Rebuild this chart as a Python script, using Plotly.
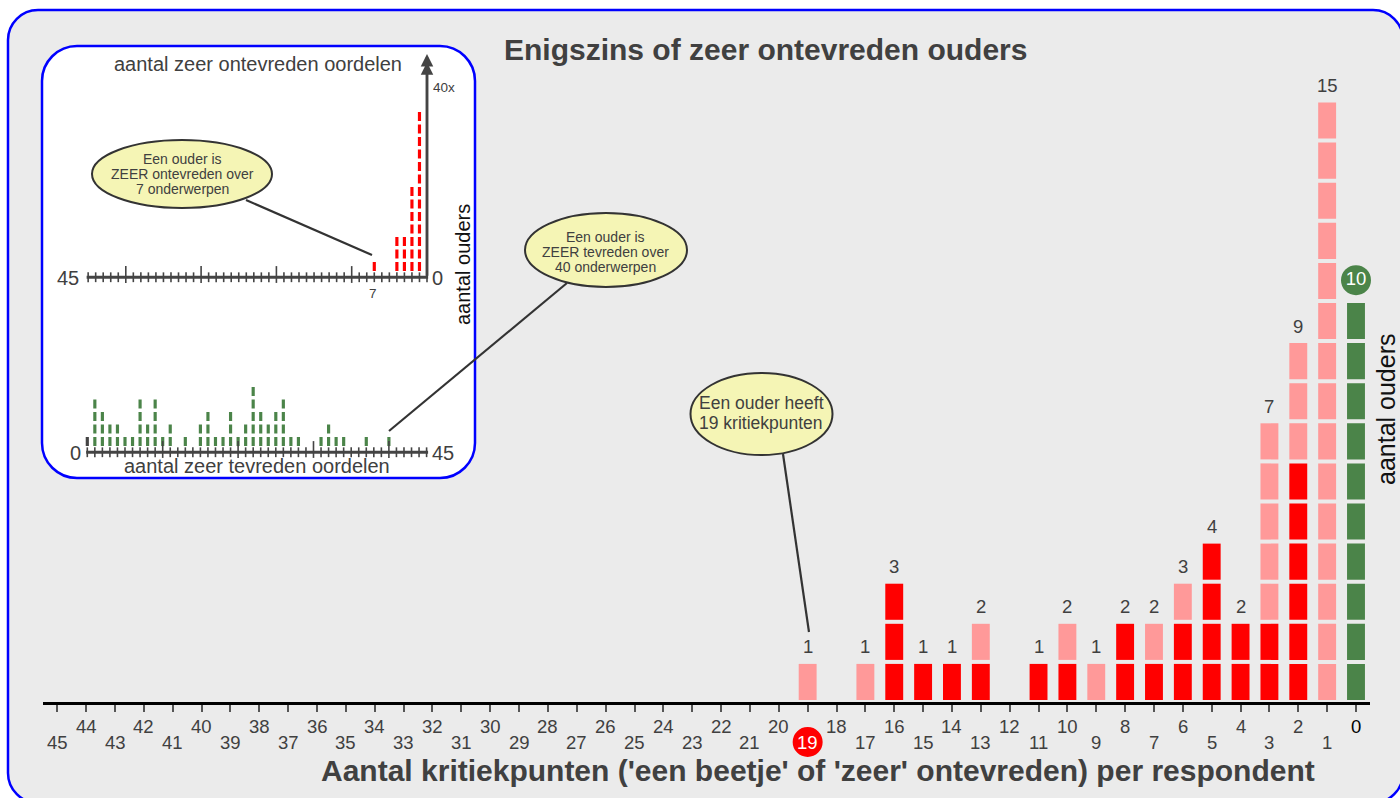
import plotly.graph_objects as go

W, H = 1400, 798

# ---------------- data ----------------
# main chart: number of critical points per respondent (x) and number of parents
crit_points   = [19, 17, 16, 15, 14, 13, 11, 10, 9, 8, 7, 6, 5, 4, 3, 2, 1, 0]
zeer_counts   = [0, 0, 3, 1, 1, 1, 1, 1, 0, 2, 1, 2, 4, 2, 2, 6, 0, 0]      # red (at least one 'zeer')
beetje_counts = [1, 1, 0, 0, 0, 1, 0, 1, 1, 0, 1, 1, 0, 0, 5, 3, 15, 0]     # pink
tevreden_counts = [0, 0, 0, 0, 0, 0, 0, 0, 0, 0, 0, 0, 0, 0, 0, 0, 0, 10]  # green (no critical points)
main_tick_values = list(range(0, 46))
highlight_tick = 19

# inset top: number of 'zeer ontevreden' answers per parent
ontevreden_k = [1, 2, 3, 4, 7]
ontevreden_n = [13, 7, 3, 3, 1]
ontevreden_zero_label = "40x"

# inset bottom: number of 'zeer tevreden' answers per parent
tevreden_k = [0, 1, 2, 3, 4, 5, 6, 7, 8, 9, 10, 11, 13, 15, 16, 17, 18, 19, 20, 21,
              22, 23, 24, 25, 26, 27, 28, 31, 32, 33, 34, 37, 40]
tevreden_n = [1, 4, 3, 2, 2, 1, 1, 4, 2, 4, 1, 2, 1, 2, 3, 1, 1, 3, 1, 2,
              5, 3, 2, 3, 4, 1, 1, 1, 2, 1, 1, 1, 1]
inset_tick_values = list(range(0, 46))

# ---------------- style ----------------
RED, PINK, GREEN, DARK = "#ff0000", "#ff9999", "#4b8449", "#444444"
BG, BLUE, TXT = "#ebebeb", "#0000ff", "#404040"
ELL_FILL, ELL_LINE = "#f5f5b5", "#333333"
FONT = "Arial, Liberation Sans, sans-serif"


def X(px):
    return px / W


def Y(py):
    return 1 - py / H


def rrect(x0, y0, x1, y1, r):
    k = 0.552 * r
    return (f"M {X(x0+r)},{Y(y0)} L {X(x1-r)},{Y(y0)} "
            f"C {X(x1-r+k)},{Y(y0)} {X(x1)},{Y(y0+r-k)} {X(x1)},{Y(y0+r)} "
            f"L {X(x1)},{Y(y1-r)} "
            f"C {X(x1)},{Y(y1-r+k)} {X(x1-r+k)},{Y(y1)} {X(x1-r)},{Y(y1)} "
            f"L {X(x0+r)},{Y(y1)} "
            f"C {X(x0+r-k)},{Y(y1)} {X(x0)},{Y(y1-r+k)} {X(x0)},{Y(y1-r)} "
            f"L {X(x0)},{Y(y0+r)} "
            f"C {X(x0)},{Y(y0+r-k)} {X(x0+r-k)},{Y(y0)} {X(x0+r)},{Y(y0)} Z")


def segments(xs, counts, starts):
    sx, sb = [], []
    for x, c, s in zip(xs, counts, starts):
        for k in range(c):
            sx.append(x)
            sb.append(s + k)
    return sx, sb


fig = go.Figure()

# ---------------- main chart bars ----------------
SEG_H = 0.9
zeros = [0] * len(crit_points)
rx, rb = segments(crit_points, zeer_counts, zeros)
px_, pb = segments(crit_points, beetje_counts, zeer_counts)
gx, gb = segments(crit_points, tevreden_counts, zeros)
for sx, sb, col in [(rx, rb, RED), (px_, pb, PINK), (gx, gb, GREEN)]:
    fig.add_trace(go.Bar(x=sx, base=sb, y=[SEG_H] * len(sx), width=0.62,
                         marker=dict(color=col, line=dict(width=0)),
                         xaxis="x", yaxis="y", hoverinfo="skip"))

totals = [a + b + c for a, b, c in zip(zeer_counts, beetje_counts, tevreden_counts)]

annotations = []
for cp, t, g in zip(crit_points, totals, tevreden_counts):
    if t == 0 or g > 0:
        continue
    annotations.append(dict(x=cp, y=t, xref="x", yref="y", yshift=13, text=str(t),
                            xanchor="center", yanchor="middle",
                            showarrow=False, font=dict(family=FONT, size=18.5, color=TXT)))

# green circle with count for 0
for cp, g in zip(crit_points, tevreden_counts):
    if g > 0:
        fig.add_trace(go.Scatter(x=[cp], y=[g + 0.47], mode="markers+text", text=[str(g)],
                                 textposition="middle center",
                                 textfont=dict(family=FONT, size=18.5, color="white"),
                                 marker=dict(size=30, color=GREEN), cliponaxis=False,
                                 xaxis="x", yaxis="y", hoverinfo="skip"))

# staggered tick labels
for t in main_tick_values:
    py = 726.5 if t % 2 == 0 else 742.5
    col = "white" if t == highlight_tick else ("#000000" if t == 0 else TXT)
    annotations.append(dict(x=t, y=Y(py), xref="x", yref="paper", text=str(t),
                            xanchor="center", yanchor="middle",
                            showarrow=False, font=dict(family=FONT, size=18.5, color=col)))

# ---------------- inset top (zeer ontevreden) ----------------
DASH_H = 0.72
tx, tb = segments(ontevreden_k, ontevreden_n, [0.5] * len(ontevreden_k))
fig.add_trace(go.Bar(x=tx, base=tb, y=[DASH_H] * len(tx), width=0.42,
                     marker=dict(color=RED, line=dict(width=0)),
                     xaxis="x2", yaxis="y2", hoverinfo="skip"))
fig.add_trace(go.Scatter(x=[45.2, -0.15], y=[0, 0], mode="lines",
                         line=dict(color=DARK, width=3), xaxis="x2", yaxis="y2", hoverinfo="skip"))
small = [v for v in inset_tick_values if v % 10 != 0 or v == 0]
big = [v for v in inset_tick_values if v % 10 == 0 and v != 0]
fig.add_trace(go.Scatter(x=small, y=[0] * len(small), mode="markers", cliponaxis=False,
                         marker=dict(symbol="line-ns", size=7, line=dict(color=DARK, width=1.6)),
                         xaxis="x2", yaxis="y2", hoverinfo="skip"))
fig.add_trace(go.Scatter(x=big, y=[0.22] * len(big), mode="markers", cliponaxis=False,
                         marker=dict(symbol="line-ns", size=12, line=dict(color=DARK, width=1.6)),
                         xaxis="x2", yaxis="y2", hoverinfo="skip"))

# ---------------- inset bottom (zeer tevreden) ----------------
bx, bb = segments(tevreden_k, tevreden_n, [0.5] * len(tevreden_k))
bcol = [DARK if x == 0 else GREEN for x in bx]
fig.add_trace(go.Bar(x=bx, base=bb, y=[DASH_H] * len(bx), width=0.42,
                     marker=dict(color=bcol, line=dict(width=0)),
                     xaxis="x3", yaxis="y3", hoverinfo="skip"))
fig.add_trace(go.Scatter(x=[-0.15, 45.2], y=[0, 0], mode="lines",
                         line=dict(color=DARK, width=3), xaxis="x3", yaxis="y3", hoverinfo="skip"))
fig.add_trace(go.Scatter(x=small, y=[0] * len(small), mode="markers", cliponaxis=False,
                         marker=dict(symbol="line-ns", size=7, line=dict(color=DARK, width=1.6)),
                         xaxis="x3", yaxis="y3", hoverinfo="skip"))
fig.add_trace(go.Scatter(x=big, y=[0.22] * len(big), mode="markers", cliponaxis=False,
                         marker=dict(symbol="line-ns", size=12, line=dict(color=DARK, width=1.6)),
                         xaxis="x3", yaxis="y3", hoverinfo="skip"))

# arrow for the '0' bar of the top inset (40 parents)
for top in [17.85, 17.2]:
    annotations.append(dict(x=0, y=top, ax=0, ay=0, xref="x2", yref="y2", axref="x2", ayref="y2",
                            showarrow=True, arrowhead=2, arrowsize=1, arrowwidth=2.5,
                            arrowcolor=DARK, text=""))


def txt(text, px, py, size, color=TXT, bold=False, angle=0):
    t = f"<b>{text}</b>" if bold else text
    annotations.append(dict(x=X(px), y=Y(py), xref="paper", yref="paper", text=t,
                            xanchor="center", yanchor="middle",
                            showarrow=False, textangle=angle,
                            font=dict(family=FONT, size=size, color=color)))


txt("Enigszins of zeer ontevreden ouders", 765.5, 50, 30, bold=True)
txt("Aantal kritiekpunten ('een beetje' of 'zeer' ontevreden) per respondent", 818, 770, 30, bold=True)
txt("aantal ouders", 1386, 409, 25, color="#111111", angle=-90)

txt("aantal zeer ontevreden oordelen", 258, 64, 20)
txt(ontevreden_zero_label, 444, 87, 13.5)
txt("45", 68, 278, 20)
txt("0", 437, 278, 20)
txt("7", 373, 293, 13.5)
txt("aantal ouders", 463, 265, 20, color="#111111", angle=-90)
txt("0", 75, 453, 20)
txt("45", 443, 453, 20)
txt("aantal zeer tevreden oordelen", 257, 466, 20)

# callout texts
for i, line in enumerate(["Een ouder is", "ZEER ontevreden over", "7 onderwerpen"]):
    txt(line, 182, 159 + 15 * i, 14)
for i, line in enumerate(["Een ouder is", "ZEER tevreden over", "40 onderwerpen"]):
    txt(line, 605, 237 + 15 * i, 14)
for i, line in enumerate(["Een ouder heeft", "19 kritiekpunten"]):
    txt(line, 761, 403 + 20 * i, 17.5)

# ---------------- shapes ----------------
shapes = []
shapes.append(dict(type="path", path=rrect(8, 10, 1403, 803, 30), xref="paper", yref="paper",
                   fillcolor=BG, line=dict(color=BLUE, width=2.5), layer="below"))
shapes.append(dict(type="path", path=rrect(42, 46, 475, 478, 35), xref="paper", yref="paper",
                   fillcolor="white", line=dict(color=BLUE, width=2.5), layer="below"))
# red circle behind highlighted tick label
shapes.append(dict(type="circle", xref="x", yref="paper", xsizemode="pixel", xanchor=highlight_tick,
                   x0=-15, x1=15, y0=Y(742 + 15), y1=Y(742 - 15), fillcolor=RED,
                   line=dict(width=0), layer="above"))
# callout lines
for (x0, y0, x1, y1) in [(246, 200, 372, 255), (567, 283, 389, 431), (783, 454, 809, 632)]:
    shapes.append(dict(type="line", x0=X(x0), y0=Y(y0), x1=X(x1), y1=Y(y1), xref="paper",
                       yref="paper", line=dict(color=ELL_LINE, width=2.2), layer="above"))
# ellipses
for (cx, cy, rxx, ryy) in [(182, 174, 90, 34), (606, 250, 81, 37), (761.5, 414, 71, 41)]:
    shapes.append(dict(type="circle", x0=X(cx - rxx), x1=X(cx + rxx), y0=Y(cy + ryy), y1=Y(cy - ryy),
                       xref="paper", yref="paper", fillcolor=ELL_FILL,
                       line=dict(color=ELL_LINE, width=2), layer="above"))

# ---------------- axes ----------------
UNIT = 28.86
x0_px = 57.3 - 0.5 * UNIT          # value 45.5
x1_px = 1356.0 + 0.5 * UNIT        # value -0.5
YU = 40.1
main_bottom = 702
main_top = 60

layout_axes = dict(
    xaxis=dict(domain=[X(x0_px), X(x1_px)], range=[45.5, -0.5], showgrid=False, zeroline=False,
               showline=True, linecolor="black", linewidth=3, ticks="outside", ticklen=7,
               tickwidth=2, tickcolor="#555555", tickvals=main_tick_values, showticklabels=False,
               anchor="y"),
    yaxis=dict(domain=[Y(main_bottom), Y(main_top)],
               range=[-2 / YU, (700 - main_top) / YU], visible=False, anchor="x"),
    xaxis2=dict(domain=[X(427 - 45.3 * 7.53), X(427 + 0.3 * 7.53)], range=[45.3, -0.3],
                visible=False, anchor="y2"),
    yaxis2=dict(domain=[Y(281), Y(281 - 18.2 * 12.5)], range=[-0.3, 17.9], visible=False, anchor="x2"),
    xaxis3=dict(domain=[X(87.3 - 0.3 * 7.54), X(87.3 + 45.3 * 7.54)], range=[-0.3, 45.3],
                visible=False, anchor="y3"),
    yaxis3=dict(domain=[Y(456), Y(456 - 6.3 * 12.5)], range=[-0.3, 6.0], visible=False, anchor="x3"),
)

fig.update_layout(
    width=W, height=H, margin=dict(l=0, r=0, t=0, b=0, pad=0),
    paper_bgcolor="white", plot_bgcolor="rgba(0,0,0,0)",
    showlegend=False, barmode="overlay", hovermode=False,
    shapes=shapes, annotations=annotations, font=dict(family=FONT, color=TXT),
    **layout_axes,
)

fig.write_html("out.html", config={"displayModeBar": False},
               post_script="document.body.style.margin='0';document.body.style.overflow='hidden';")
